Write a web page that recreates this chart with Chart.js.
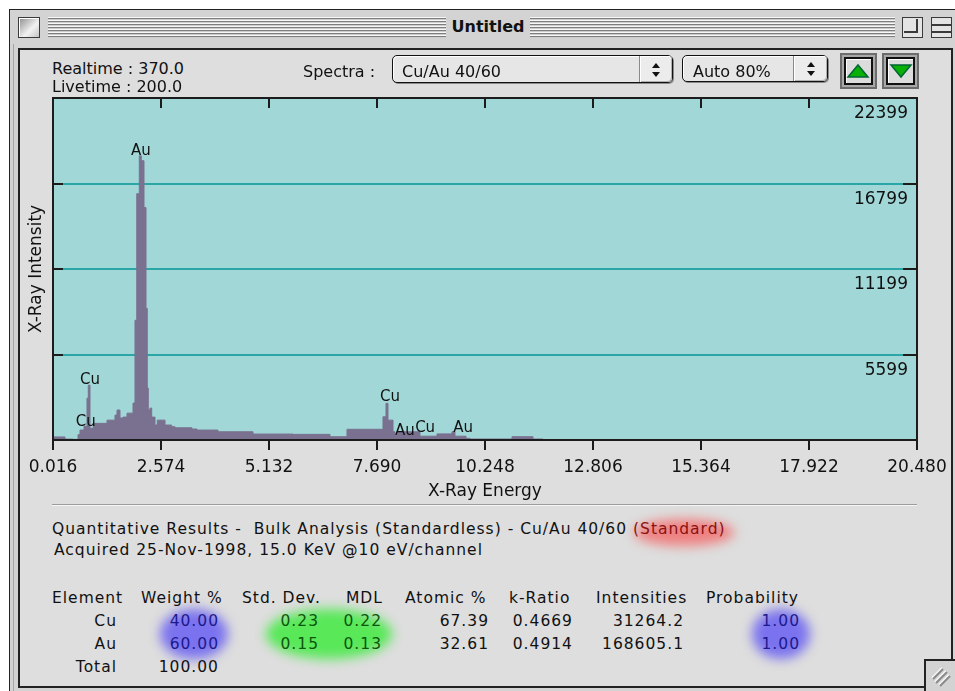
<!DOCTYPE html>
<html>
<head>
<meta charset="utf-8">
<title>Untitled</title>
<script src="https://cdn.jsdelivr.net/npm/chart.js@4.4.1/dist/chart.umd.min.js"></script>
<style>
  html, body { margin: 0; padding: 0; }
  body { position: relative; width: 955px; height: 691px; overflow: hidden; background: #fff;
         font-family: "DejaVu Sans", sans-serif; color: #111; }
  .a { position: absolute; }
  .t { position: absolute; white-space: nowrap; line-height: 1; }
  .tb { letter-spacing: 1px; }
  .win { left: 9px; top: 9px; width: 960px; height: 700px; background: #d3d3d3;
         border-left: 1px solid #222; border-top: 1px solid #222; }
  .stripes { top: 17px; height: 21px;
             background: repeating-linear-gradient(to bottom, #f7f7f7 0 1px, #7e7e7e 1px 2px, #cdcdcd 2px 3px); }
  .content { left: 18px; top: 48px; width: 935px; height: 640px; box-sizing: border-box;
             border: 2px solid #222; background: #dedede; }
  .popup { box-sizing: border-box; border: 1px solid #111; border-radius: 5px; background: #e6e6e6;
           box-shadow: 1px 1px 0 #8a8a8a, inset 1px 1px 0 #fff; }
  .popup .arr { position: absolute; top: 0; bottom: 0; right: 0; border-left: 1px solid #8a8a8a;
                background: #ececec; box-shadow: inset 1px 1px 0 #fff, inset -1px -1px 0 #b0b0b0;
                border-radius: 0 4px 4px 0; }
  .btn { box-sizing: border-box; border: 2px solid #6c6c6c; background: #a8a8a8; }
  .btn .in { position: absolute; left: 2px; top: 2px; right: 2px; bottom: 2px; box-sizing: border-box;
             border: 2px solid #111; background: #dcdcdc; box-shadow: inset 1px 1px 0 #fff; }
  .glow { position: absolute; border-radius: 50%; filter: blur(6px); }
  .sep { left: 52px; top: 504px; width: 865px; height: 1px; background: #9c9c9c; border-bottom: 1px solid #f6f6f6; }
  #chart { position: absolute; left: 0; top: 90px; }
</style>
</head>
<body>
<div class="a win"></div>
<div class="a" style="left:13px;top:44px;width:1px;height:650px;background:#a6a6a6"></div>
<div class="a" style="left:18px;top:17px;width:22px;height:21px;box-sizing:border-box;border:1px solid #3a3a3a;
     background:linear-gradient(135deg,#8c8c8c,#f2f2f2 60%,#c4c4c4);box-shadow:inset 1px 1px 0 #fff"></div>
<div class="a stripes" style="left:48px;width:398px"></div>
<div class="a stripes" style="left:530px;width:365px"></div>
<div class="a" style="left:902px;top:17px;width:21px;height:21px;box-sizing:border-box;border:1px solid #3a3a3a;background:#e4e4e4">
  <div class="a" style="left:1px;top:1px;width:12px;height:12px;border-right:2px solid #3a3a3a;border-bottom:2px solid #3a3a3a"></div>
</div>
<div class="a" style="left:931px;top:17px;width:21px;height:21px;box-sizing:border-box;border:1px solid #3a3a3a;background:#e4e4e4">
  <div class="a" style="left:0;top:6px;width:19px;height:5px;border-top:2px solid #3a3a3a;border-bottom:2px solid #3a3a3a"></div>
</div>
<div class="a content"></div>
<div class="a popup" style="left:392px;top:55px;width:281px;height:28px">
  <div class="arr" style="width:32px"></div>
</div>
<svg class="a" style="left:650px;top:62px" width="12" height="18">
  <polygon points="2,6 6,1 10,6" fill="#111"/><polygon points="2,10 10,10 6,15" fill="#111"/>
</svg>
<div class="a popup" style="left:682px;top:55px;width:146px;height:27px">
  <div class="arr" style="width:33px"></div>
</div>
<svg class="a" style="left:805px;top:61px" width="12" height="18">
  <polygon points="2,6 6,1 10,6" fill="#111"/><polygon points="2,10 10,10 6,15" fill="#111"/>
</svg>
<div class="a btn" style="left:840px;top:53px;width:37px;height:36px"><div class="in"></div></div>
<svg class="a" style="left:846px;top:62px" width="26" height="18">
  <polygon points="2,15 12,3 22,15" fill="#08b008" stroke="#063" stroke-width="1.5"/>
</svg>
<div class="a btn" style="left:882px;top:53px;width:37px;height:36px"><div class="in"></div></div>
<svg class="a" style="left:889px;top:62px" width="26" height="18">
  <polygon points="2,3 22,3 12,15" fill="#08b008" stroke="#063" stroke-width="1.5"/>
</svg>
<div class="a sep"></div>
<div class="a" style="left:924px;top:659px;width:40px;height:40px;box-sizing:border-box;background:#d3d3d3;
     border-left:2px solid #222;border-top:2px solid #222"></div>
<svg class="a" style="left:928px;top:664px" width="24" height="24">
  <g stroke-width="2"><line x1="4" y1="14" x2="14" y2="4" stroke="#f8f8f8"/><line x1="5" y1="15" x2="15" y2="5" stroke="#8a8a8a"/>
  <line x1="7" y1="18" x2="18" y2="7" stroke="#f8f8f8"/><line x1="8" y1="19" x2="19" y2="8" stroke="#8a8a8a"/>
  <line x1="11" y1="21" x2="21" y2="11" stroke="#f8f8f8"/><line x1="12" y1="22" x2="22" y2="12" stroke="#8a8a8a"/></g>
</svg>

<div class="glow" style="left:634px;top:519px;width:100px;height:27px;background:#ef8080"></div>
<div class="glow" style="left:160px;top:609px;width:68px;height:50px;background:#7a72ee"></div>
<div class="glow" style="left:266px;top:609px;width:126px;height:50px;background:#58e858"></div>
<div class="glow" style="left:752px;top:609px;width:58px;height:50px;background:#7a72ee"></div>

<canvas id="chart" width="955" height="425"></canvas>

<script>
// spectrum (keV, counts); each value holds until the next energy
const energyKeV = [0.016, 0.300, 0.490, 0.608, 0.655, 0.750, 0.821, 0.852, 0.892, 0.970,
  1.295, 1.484, 1.532, 1.603, 1.674, 1.769, 1.911, 1.958, 2.000, 2.060,
  2.107, 2.171, 2.219, 2.249, 2.273, 2.313, 2.354, 2.432, 2.486, 2.669,
  2.827, 2.906, 3.308, 3.427, 3.924, 4.753, 5.700, 6.577, 6.979, 7.832,
  7.903, 7.950, 8.069, 8.116, 8.164, 8.708, 9.111, 9.466, 9.537, 9.798,
  9.893, 10.887, 11.385, 11.622, 11.740, 20.480];
const counts = [0, 200, 60, 40, 350, 650, 900, 2740, 3590, 770,
  1090, 1300, 1630, 1960, 1440, 1500, 1760, 2420, 7840, 16130,
  18610, 18290, 15220, 8620, 3400, 1960, 2090, 1500, 980, 1300,
  980, 870, 800, 720, 650, 540, 390, 370, 215, 700,
  1520, 2400, 1300, 540, 280, 540, 250, 400, 540, 250,
  110, 65, 215, 65, 0, 0];

const tickEnergy = [0.016, 2.574, 5.132, 7.690, 10.248, 12.806, 15.364, 17.922, 20.480];
const intensityTicks = [5599, 11199, 16799, 22399];

const peakNames = ['Cu', 'Cu', 'Au', 'Cu', 'Au', 'Cu', 'Au'];
const peakEnergy = [0.892, 0.790, 2.100, 8.000, 8.350, 8.830, 9.730];
const peakHeight = [3590, 850, 18610, 2480, 260, 457, 457];

// results table
const tableHeaders = ['Element', 'Weight %', 'Std. Dev.', 'MDL', 'Atomic %', 'k-Ratio', 'Intensities', 'Probability'];
const elements = ['Cu', 'Au', 'Total'];
const weightPct = ['40.00', '60.00', '100.00'];
const stdDev = ['0.23', '0.15'];
const mdl = ['0.22', '0.13'];
const atomicPct = ['67.39', '32.61'];
const kRatio = ['0.4669', '0.4914'];
const intensities = ['31264.2', '168605.1'];
const probability = ['1.00', '1.00'];

function addText(str, x, baseline, size, opt) {
  opt = opt || {};
  var el = document.createElement('div');
  el.className = 't' + (opt.wide ? ' tb' : '');
  el.textContent = str;
  el.style.fontSize = size + 'px';
  el.style.top = (baseline - 0.846 * size) + 'px';
  if (opt.align === 'right') el.style.right = (955 - x - (opt.wide ? 1 : 0)) + 'px';
  else if (opt.align === 'center') { el.style.left = (x - 300) + 'px'; el.style.width = '600px'; el.style.textAlign = 'center'; }
  else el.style.left = x + 'px';
  if (opt.color) el.style.color = opt.color;
  if (opt.weight) el.style.fontWeight = opt.weight;
  document.body.appendChild(el);
  return el;
}

addText('Untitled', 488, 33, 16, {align: 'center', weight: 'bold'});
addText('Realtime : 370.0', 52, 75, 16);
addText('Livetime : 200.0', 52, 93, 16);
addText('Spectra :', 303, 78, 16);
addText('Cu/Au 40/60', 402, 78, 16);
addText('Auto 80%', 693, 78, 16);

var q = addText('Quantitative Results -  Bulk Analysis (Standardless) - Cu/Au 40/60 ', 52, 535, 15.5, {wide: true});
q.style.whiteSpace = 'pre';
var st = document.createElement('span');
st.textContent = '(Standard)';
st.style.color = '#8a1212';
q.appendChild(st);
addText('Acquired 25-Nov-1998, 15.0 KeV @10 eV/channel', 54, 556, 15.5, {wide: true});

var headLeft = [52, 141, 242, 346, 405, 509, 596, 706];
var colRight = [116, 218, 318, 381, 488, 572, 683, 799];
var rowBase = [604, 627, 650, 673];
var blue = '#1c1a8c', green = '#0c560c';
tableHeaders.forEach(function (h, i) { addText(h, headLeft[i], rowBase[0], 15.5, {wide: true}); });
elements.forEach(function (e, r) { addText(e, colRight[0], rowBase[r + 1], 15.5, {align: 'right', wide: true}); });
weightPct.forEach(function (v, r) {
  addText(v, colRight[1], rowBase[r + 1], 15.5, {align: 'right', wide: true, color: r < 2 ? blue : '#111'});
});
[stdDev, mdl, atomicPct, kRatio, intensities, probability].forEach(function (col, c) {
  var color = c < 2 ? green : (c === 5 ? blue : '#111');
  col.forEach(function (v, r) {
    addText(v, colRight[c + 2], rowBase[r + 1], 15.5, {align: 'right', wide: true, color: color});
  });
});

var framePlugin = {
  id: 'frame',
  beforeDraw: function (chart) {
    var ctx = chart.ctx, a = chart.chartArea;
    ctx.save();
    ctx.fillStyle = '#a1d8d7';
    ctx.fillRect(a.left, a.top, a.right - a.left, a.bottom - a.top);
    ctx.restore();
  },
  afterDraw: function (chart) {
    var ctx = chart.ctx, a = chart.chartArea, sx = chart.scales.x, sy = chart.scales.y;
    ctx.save();
    ctx.strokeStyle = '#1c1c1c';
    ctx.lineWidth = 2;
    tickEnergy.forEach(function (v) {
      var x = Math.round(sx.getPixelForValue(v));
      ctx.beginPath(); ctx.moveTo(x, a.top); ctx.lineTo(x, a.top + 10); ctx.stroke();
    });
    intensityTicks.forEach(function (v) {
      var y = Math.round(sy.getPixelForValue(v));
      ctx.beginPath(); ctx.moveTo(a.left, y); ctx.lineTo(a.left + 10, y); ctx.stroke();
      ctx.beginPath(); ctx.moveTo(a.right - 14, y); ctx.lineTo(a.right, y); ctx.stroke();
    });
    ctx.strokeRect(a.left, a.top, a.right - a.left, a.bottom - a.top);
    ctx.fillStyle = '#111';
    ctx.font = '15px "DejaVu Sans"';
    ctx.textAlign = 'center';
    ctx.textBaseline = 'alphabetic';
    peakNames.forEach(function (n, i) {
      ctx.fillText(n, sx.getPixelForValue(peakEnergy[i]), sy.getPixelForValue(peakHeight[i]) - 1);
    });
    ctx.restore();
  }
};

new Chart(document.getElementById('chart'), {
  type: 'line',
  data: {
    datasets: [{
      data: energyKeV.map(function (e, i) { return {x: e, y: counts[i]}; }),
      stepped: 'after',
      fill: 'origin',
      backgroundColor: '#7a7190',
      borderColor: '#7a7190',
      borderWidth: 1,
      pointRadius: 0
    }]
  },
  options: {
    responsive: false,
    animation: false,
    layout: {padding: {top: 8, left: 0, right: 0, bottom: 0}},
    plugins: {legend: {display: false}, tooltip: {enabled: false}},
    scales: {
      x: {
        type: 'linear', position: 'bottom', min: 0.016, max: 20.48,
        afterBuildTicks: function (s) { s.ticks = tickEnergy.map(function (v) { return {value: v}; }); },
        afterFit: function (s) { s.height = 75; s.paddingLeft = 0; s.paddingRight = 0; },
        ticks: {
          autoSkip: false, maxRotation: 0, padding: 7, color: '#111',
          font: {family: 'DejaVu Sans', size: 17},
          callback: function (v) { return Number(v).toFixed(3); }
        },
        grid: {drawOnChartArea: false, drawTicks: true, tickLength: 10, color: '#1c1c1c', lineWidth: 2},
        border: {display: false},
        title: {display: true, text: 'X-Ray Energy', color: '#111',
                font: {family: 'DejaVu Sans', size: 17}, padding: {top: 0, bottom: 13}}
      },
      y: {
        type: 'linear', position: 'right', min: 0, max: 22399,
        afterBuildTicks: function (s) { s.ticks = intensityTicks.map(function (v) { return {value: v}; }); },
        afterFit: function (s) { s.width = 38; s.paddingTop = 0; s.paddingBottom = 0; },
        ticks: {
          mirror: true, padding: -9, labelOffset: 16, color: '#111',
          font: {family: 'DejaVu Sans', size: 17},
          callback: function (v) { return String(v); }
        },
        grid: {color: '#2ba6a6', lineWidth: 2, drawTicks: false},
        border: {display: false}
      },
      yl: {
        type: 'linear', position: 'left', display: true,
        afterFit: function (s) { s.width = 53; },
        ticks: {display: false},
        grid: {display: false},
        border: {display: false},
        title: {display: true, text: 'X-Ray Intensity', color: '#111',
                font: {family: 'DejaVu Sans', size: 17}, padding: {top: 26, bottom: 0}}
      }
    }
  },
  plugins: [framePlugin]
});
</script>
</body>
</html>
